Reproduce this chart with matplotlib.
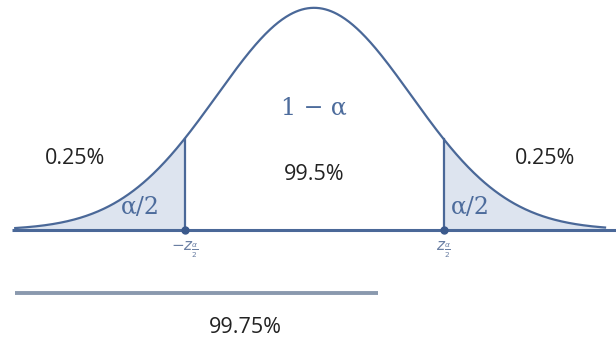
import numpy as np
import matplotlib.pyplot as plt

# standard normal curve, drawn schematically with the critical values at +/- z_cut
z_lo, z_hi = -3.08, 3.0
z_cut = 1.335
left_label, mid_label, right_label = '0.25%', '99.5%', '0.25%'
total_label = '99.75%'
range_bar = [-3.08, 0.66]

line_col = '#4a6898'
fill_col = '#dde4ef'
text_col = '#4d6c9c'

z = np.linspace(z_lo, z_hi, 600)
pdf = np.exp(-z**2 / 2) / np.sqrt(2 * np.pi)

fig = plt.figure(figsize=(6.16, 3.38), dpi=100)
ax = fig.add_axes([0, 0, 1, 1])
ax.set_xlim(-3.237, 3.113)
ax.set_ylim(-0.194, 0.413)
ax.axis('off')

# shaded tails
ax.fill_between(z, pdf, 0, where=z <= -z_cut, color=fill_col, lw=0)
ax.fill_between(z, pdf, 0, where=z >= z_cut, color=fill_col, lw=0)

ax.plot(z, pdf, color=line_col, lw=1.6)
ax.plot([-3.11, 3.12], [0, 0], color=line_col, lw=2.2, solid_capstyle='butt')

# critical value markers
h = np.exp(-z_cut**2 / 2) / np.sqrt(2 * np.pi)
for c in (-z_cut, z_cut):
    ax.plot([c, c], [0, h], color=line_col, lw=1.6)
    ax.plot(c, 0, 'o', color='#3b5a8c', ms=5)

# range bar under the axis
ax.plot(range_bar, [-0.113, -0.113], color='#8a99ae', lw=2.8, solid_capstyle='butt')

pct = dict(fontsize=15.5, family='Open Sans', color='#222222', ha='center', va='center')
ax.text(-2.46, 0.129, left_label, **pct)
ax.text(2.38, 0.129, right_label, **pct)
ax.text(0, 0.099, mid_label, **pct)
ax.text(-0.71, -0.176, total_label, **pct)

ser = dict(family='DejaVu Serif', color=text_col, ha='center', va='center')
ax.text(0, 0.219, '1 \u2212 \u03b1', fontsize=17, **ser)
ax.text(-1.79, 0.040, '\u03b1/2', fontsize=17, **ser)
ax.text(1.61, 0.040, '\u03b1/2', fontsize=17, **ser)

ax.text(-z_cut, -0.036, r'$-z_{\frac{\alpha}{2}}$', fontsize=11, color='#6a7fa3', ha='center', va='center')
ax.text(z_cut, -0.036, r'$z_{\frac{\alpha}{2}}$', fontsize=11, color='#6a7fa3', ha='center', va='center')

fig.savefig('out.png', dpi=100)
